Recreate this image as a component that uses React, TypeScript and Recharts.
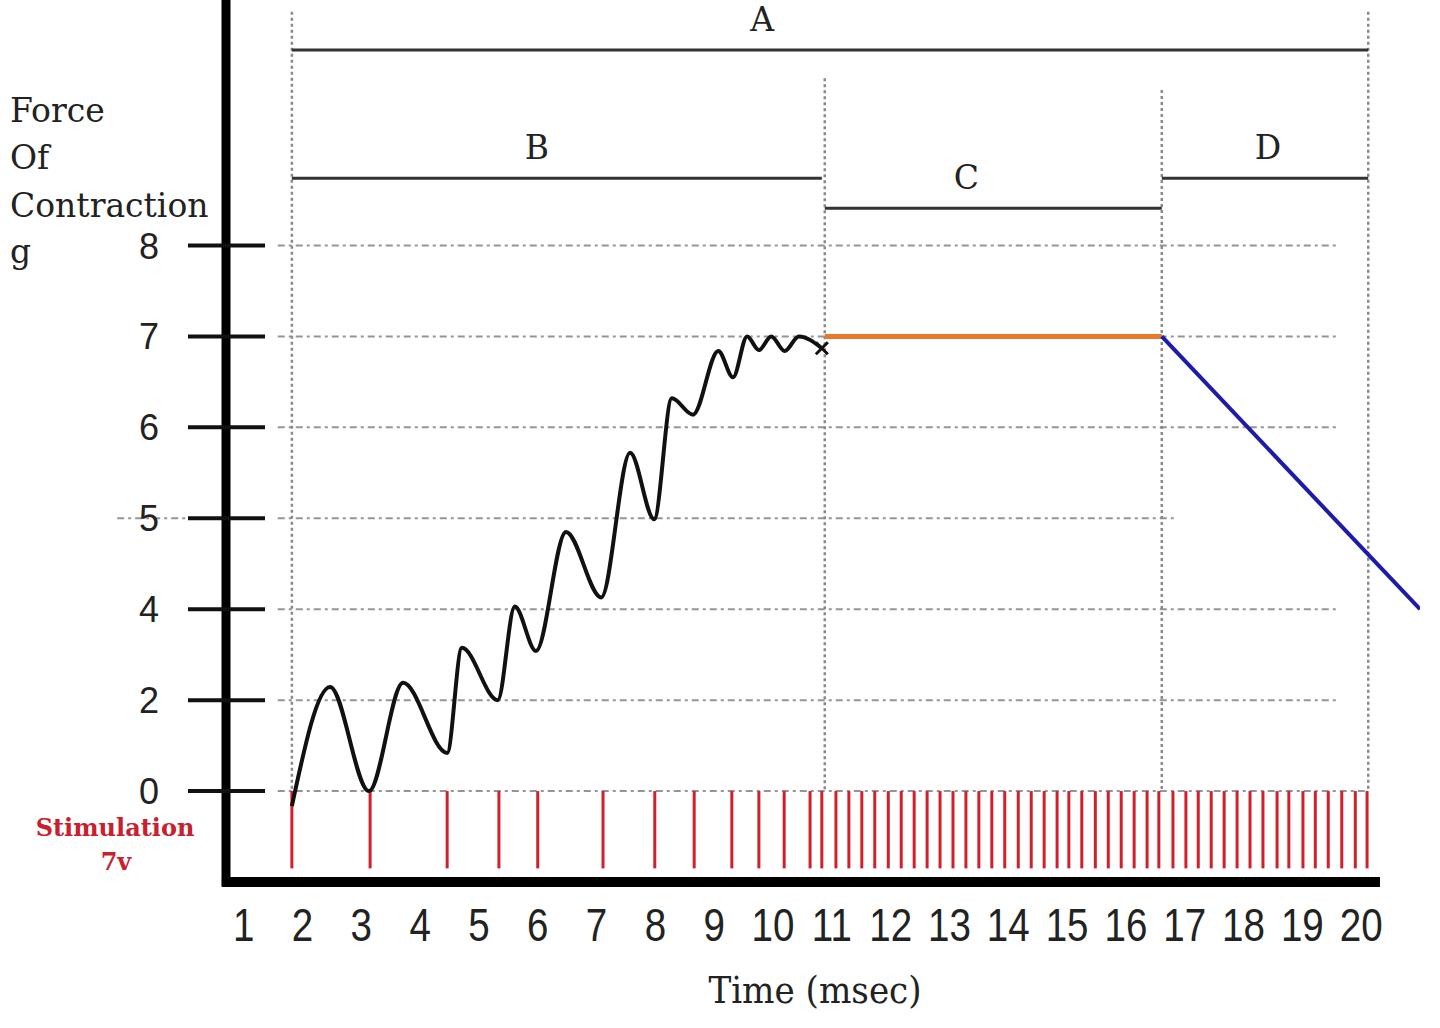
import React from 'react';
import { ComposedChart, Line, XAxis, YAxis, ReferenceLine } from 'recharts';

// The printed force ticks are not evenly spaced in grams (0, 2, 4, 5, 6, 7, 8),
// so the y axis runs on evenly spaced "levels" and grams are converted both ways.
const forceTicks = [0, 2, 4, 5, 6, 7, 8];
const timeTicks = [1, 2, 3, 4, 5, 6, 7, 8, 9, 10, 11, 12, 13, 14, 15, 16, 17, 18, 19, 20];

// summating twitches (msec, g)
const twitchTime = [1.82, 2.47, 3.13, 3.71, 4.46, 4.71, 5.32, 5.61, 5.97, 6.48, 7.08, 7.57, 7.98, 8.28, 8.64, 9.07, 9.32, 9.56, 9.76, 9.97, 10.2, 10.44, 10.83];
const twitchForce = [-0.33, 2.29, 0.0, 2.38, 0.84, 3.15, 2.0, 4.03, 3.08, 4.85, 4.13, 5.72, 4.99, 6.32, 6.14, 6.84, 6.55, 7.0, 6.85, 7.0, 6.84, 7.0, 6.87];

// fused tetanus plateau
const plateauTime = [10.88, 16.61];
const plateauForce = [7, 7];

// fatigue
const fatigueTime = [16.61, 21.0];
const fatigueForce = [7, 4];

// stimulus pulses, 7 V
const stimulusTimes = [
  1.82, 3.15, 4.46, 5.34, 6.0, 7.11, 7.99, 8.66, 9.3, 9.76, 10.19,
  10.63, 10.83, 11.07, 11.29, 11.51, 11.73, 11.96, 12.18, 12.4, 12.62,
  12.84, 13.06, 13.28, 13.5, 13.72, 13.94, 14.17, 14.39, 14.61, 14.83,
  15.03, 15.25, 15.48, 15.7, 15.92, 16.14, 16.36, 16.56, 16.8, 17.02,
  17.23, 17.45, 17.67, 17.89, 18.11, 18.33, 18.57, 18.77, 19.01, 19.22,
  19.44, 19.67, 19.9, 20.1,
];

// phase brackets across the top
const phaseNames = ['A', 'B', 'C', 'D'];
const phaseStart = [1.82, 1.82, 10.88, 16.61];
const phaseEnd = [20.12, 10.83, 16.61, 20.12];
const phaseBounds = [1.82, 10.88, 16.61, 20.12];

// drawing layout (levels / px), kept apart from the values
const phaseBarLevel = [8.15, 6.74, 6.41, 6.74];
const phaseLabelShift = [-68, -20, -27, 3];
const boundTopLevel = [8.57, 7.84, 7.71, 8.57];
const GRID_START = 1.58;
const GRID_END = 19.61;
const STIM_BOTTOM = -0.85;

const toLevel = (g: number) => (g <= 4 ? g / 2 : g - 2);
const toForce = (l: number) => (l <= 2 ? l * 2 : l + 2);

const zip = (ts: number[], gs: number[]) => ts.map((t, i) => ({ t, level: toLevel(gs[i]) }));

const twitchData = zip(twitchTime, twitchForce);
const plateauData = zip(plateauTime, plateauForce);
const fatigueData = zip(fatigueTime, fatigueForce);

const SERIF = "'DejaVu Serif', Georgia, serif";
const SANS = "'Liberation Sans', Arial, sans-serif";
const GRID = '#959595';

const ForceTick = (props: any) => {
  const { x, y, payload } = props;
  return (
    <g>
      <line x1={x - 38} x2={x + 39} y1={y} y2={y} stroke="#111" strokeWidth={4} />
      <text x={x - 67} y={y} dy={13} textAnchor="end" fontSize={36} fontFamily={SANS} fill="#222">
        {toForce(payload.value)}
      </text>
    </g>
  );
};

// narrow, tall digits along the time axis
const TimeTick = (props: any) => {
  const { x, y, payload } = props;
  return (
    <text
      transform={`translate(${x},${y + 33}) scale(0.82,1)`}
      textAnchor="middle"
      fontSize={47}
      fontFamily={SANS}
      fill="#222"
    >
      {payload.value}
    </text>
  );
};

const AxisTitle = () => (
  <g>
    <text x={10} y={122} fontSize={33} fontFamily={SERIF} fill="#222">
      <tspan x={10}>Force</tspan>
      <tspan x={10} dy={47}>Of</tspan>
      <tspan x={10} dy={48}>Contraction</tspan>
      <tspan x={10} dy={46}>g</tspan>
    </text>
    <text x={115} y={836} textAnchor="middle" fontSize={24} fontWeight="bold" fontFamily={SERIF} fill="#c8202e">
      Stimulation
    </text>
    <text x={116} y={870} textAnchor="middle" fontSize={24} fontWeight="bold" fontFamily={SERIF} fill="#c8202e">
      7v
    </text>
  </g>
);

const EndMark = (p: any) => {
  if (p.index !== twitchData.length - 1) return <g key={`dot-${p.index}`} />;
  const { cx, cy } = p;
  return (
    <path
      key="dot-end"
      d={`M${cx - 6},${cy - 6}L${cx + 6},${cy + 6}M${cx - 6},${cy + 6}L${cx + 6},${cy - 6}`}
      stroke="#111"
      strokeWidth={3}
      fill="none"
    />
  );
};

export default function App() {
  return (
    <div style={{ position: 'absolute', left: 0, top: 0, width: 1440, height: 1028, background: '#fff' }}>
      <ComposedChart width={1440} height={1028} margin={{ top: 0, right: 20, bottom: 86, left: 166 }}>
        <XAxis
          type="number"
          dataKey="t"
          domain={[0.7, 21]}
          ticks={timeTicks}
          allowDataOverflow
          axisLine={false}
          tickLine={false}
          tickSize={0}
          tickMargin={26}
          height={60}
          interval={0}
          tick={TimeTick}
          label={{
            value: 'Time (msec)',
            position: 'bottom',
            offset: 34,
            dx: -8,
            fontSize: 38,
            fontFamily: "'DejaVu Serif Condensed', 'DejaVu Serif', serif",
            fill: '#222',
          }}
        />
        <YAxis
          type="number"
          dataKey="level"
          domain={[-1, 8.7]}
          ticks={forceTicks.map(toLevel)}
          allowDataOverflow
          width={60}
          interval={0}
          axisLine={{ stroke: '#000', strokeWidth: 9, strokeLinecap: 'square' }}
          tickLine={false}
          tickSize={0}
          tickMargin={0}
          tick={ForceTick}
          label={AxisTitle}
        />

        {/* dash-dot force grid */}
        {forceTicks
          .filter((g) => g !== 5)
          .map((g) => (
            <ReferenceLine
              key={`grid-${g}`}
              ifOverflow="visible"
              segment={[
                { x: GRID_START, y: toLevel(g) },
                { x: g === 0 ? phaseBounds[3] : GRID_END, y: toLevel(g) },
              ]}
              stroke={GRID}
              strokeWidth={2}
              strokeDasharray="7 4 3 4"
            />
          ))}
        <ReferenceLine
          ifOverflow="visible"
          segment={[{ x: GRID_START, y: toLevel(5) }, { x: 16.87, y: toLevel(5) }]}
          stroke={GRID}
          strokeWidth={2}
          strokeDasharray="7 4 3 4"
        />
        <ReferenceLine
          ifOverflow="visible"
          segment={[{ x: -1.15, y: toLevel(5) }, { x: 0.05, y: toLevel(5) }]}
          stroke={GRID}
          strokeWidth={2}
          strokeDasharray="7 4 3 4"
        />

        {/* phase boundaries */}
        {phaseBounds.map((t, i) => (
          <ReferenceLine
            key={`bound-${i}`}
            ifOverflow="visible"
            segment={[{ x: t, y: boundTopLevel[i] }, { x: t, y: 0 }]}
            stroke="#8a8a8a"
            strokeWidth={2.5}
            strokeDasharray="3 3"
          />
        ))}

        {/* phase brackets */}
        {phaseNames.map((name, i) => (
          <ReferenceLine
            key={`phase-${name}`}
            ifOverflow="visible"
            segment={[
              { x: phaseStart[i], y: phaseBarLevel[i] },
              { x: phaseEnd[i], y: phaseBarLevel[i] },
            ]}
            stroke="#333"
            strokeWidth={3}
            label={{
              value: name,
              position: 'top',
              offset: 19,
              dx: phaseLabelShift[i],
              fontSize: 33,
              fontFamily: SERIF,
              fill: '#222',
            }}
          />
        ))}

        {/* stimulus pulses */}
        {stimulusTimes.map((t, i) => (
          <ReferenceLine
            key={`stim-${i}`}
            ifOverflow="visible"
            segment={[{ x: t, y: 0 }, { x: t, y: STIM_BOTTOM }]}
            stroke="#d0202c"
            strokeWidth={3}
          />
        ))}

        {/* time axis line, stops short of the fatigue line */}
        <ReferenceLine
          ifOverflow="visible"
          segment={[{ x: 0.63, y: -1 }, { x: 20.32, y: -1 }]}
          stroke="#000"
          strokeWidth={10}
        />

        <Line
          data={twitchData}
          dataKey="level"
          type="monotone"
          stroke="#111"
          strokeWidth={4}
          dot={EndMark}
          activeDot={false}
          isAnimationActive={false}
        />
        <Line
          data={plateauData}
          dataKey="level"
          type="linear"
          stroke="#e8782a"
          strokeWidth={5}
          dot={false}
          activeDot={false}
          isAnimationActive={false}
        />
        <Line
          data={fatigueData}
          dataKey="level"
          type="linear"
          stroke="#1c1ca8"
          strokeWidth={4}
          dot={false}
          activeDot={false}
          isAnimationActive={false}
        />
      </ComposedChart>
    </div>
  );
}
